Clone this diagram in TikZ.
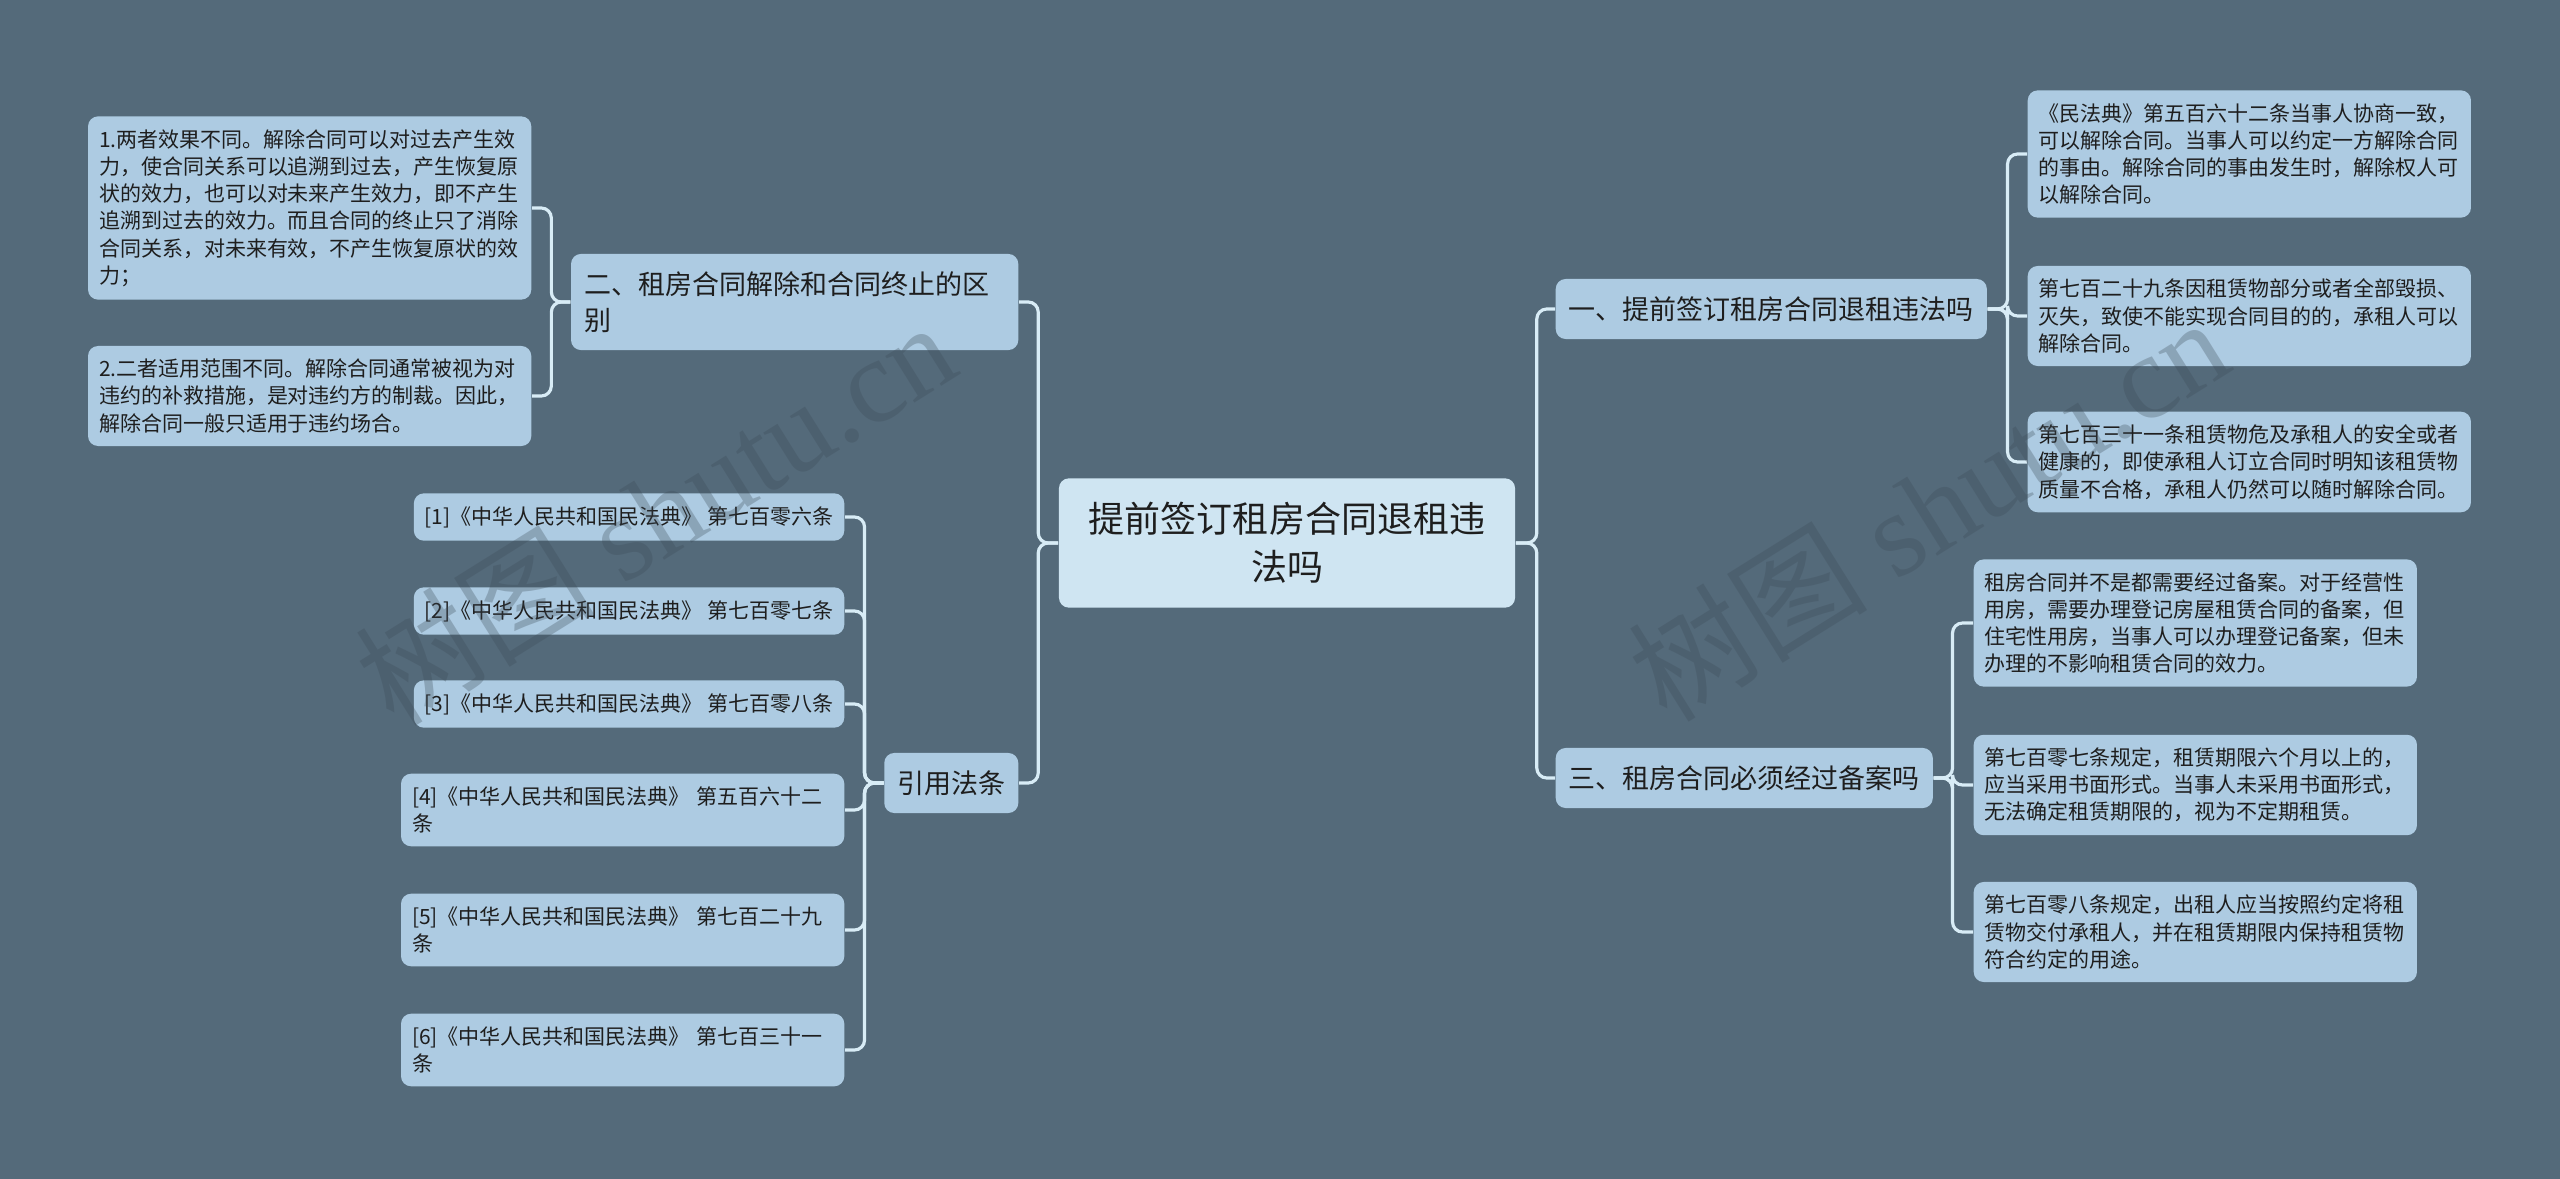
\documentclass[tikz,border=0pt]{standalone}
\usepackage{fontspec}
\newfontfamily\cjk{Noto Sans CJK SC}
\newfontfamily\wmserif{Liberation Serif}
\definecolor{bgcol}{RGB}{84,106,122}
\definecolor{boxfill}{RGB}{173,203,226}
\definecolor{rootfill}{RGB}{207,229,242}
\definecolor{linkcol}{RGB}{216,236,246}
\definecolor{textcol}{RGB}{30,30,30}
\definecolor{wmcol}{RGB}{60,74,86}

\begin{document}
\begin{tikzpicture}[x=0.01cm,y=-0.01cm,
  link/.style={draw=linkcol,line width=0.9pt,rounded corners=0.1cm},
  rootbox/.style={fill=rootfill,rounded corners=0.1cm,text=textcol,align=center,
    inner xsep=0.3cm,inner ysep=0.24cm,font=\cjk\fontsize{10.24pt}{13.66pt}\selectfont},
  topicbox/.style={fill=boxfill,rounded corners=0.1cm,text=textcol,align=left,
    inner xsep=0.13cm,inner ysep=0.175cm,font=\cjk\fontsize{7.68pt}{10.24pt}\selectfont},
  refbox/.style={fill=boxfill,rounded corners=0.1cm,text=textcol,align=left,
    inner xsep=0.11cm,inner ysep=0.13cm,font=\cjk\fontsize{5.97pt}{7.74pt}\selectfont},
  leafbox/.style={refbox,text width=4.21cm},
  wmark/.style={text=wmcol,text opacity=0.3,font=\wmserif\fontsize{34pt}{40pt}\selectfont}]
  \fill[bgcol] (0,0) rectangle (2560,1179);
  \useasboundingbox (0,0) rectangle (2560,1179);

  % centre
  \node[rootbox] (root) at (1287,543) {提前签订租房合同退租违\\法吗};

  % left side
  \node[topicbox,text width=4.21cm,anchor=east] (sec2) at (1019,302) {二、租房合同解除和合同终止的区\\别};
  \node[topicbox,anchor=east] (cite) at (1019,783) {引用法条};

  \node[leafbox,anchor=east] (diff1) at (532,208) {1.两者效果不同。解除合同可以对过去产生效\\力，使合同关系可以追溯到过去，产生恢复原\\状的效力，也可以对未来产生效力，即不产生\\追溯到过去的效力。而且合同的终止只了消除\\合同关系，对未来有效，不产生恢复原状的效\\力；};
  \node[leafbox,anchor=east] (diff2) at (532,396) {2.二者适用范围不同。解除合同通常被视为对\\违约的补救措施，是对违约方的制裁。因此，\\解除合同一般只适用于违约场合。};

  \node[refbox,anchor=east] (ref1) at (845,517) {[1]《中华人民共和国民法典》 第七百零六条};
  \node[refbox,anchor=east] (ref2) at (845,611) {[2]《中华人民共和国民法典》 第七百零七条};
  \node[refbox,anchor=east] (ref3) at (845,704) {[3]《中华人民共和国民法典》 第七百零八条};
  \node[leafbox,anchor=east] (ref4) at (845,810) {[4]《中华人民共和国民法典》 第五百六十二\\条};
  \node[leafbox,anchor=east] (ref5) at (845,930) {[5]《中华人民共和国民法典》 第七百二十九\\条};
  \node[leafbox,anchor=east] (ref6) at (845,1050) {[6]《中华人民共和国民法典》 第七百三十一\\条};

  % right side
  \node[topicbox,anchor=west] (sec1) at (1555,309) {一、提前签订租房合同退租违法吗};
  \node[topicbox,anchor=west] (sec3) at (1555,778) {三、租房合同必须经过备案吗};

  \node[leafbox,anchor=west] (law1) at (2027,154) {《民法典》第五百六十二条当事人协商一致，\\可以解除合同。当事人可以约定一方解除合同\\的事由。解除合同的事由发生时，解除权人可\\以解除合同。};
  \node[leafbox,anchor=west] (law2) at (2027,316) {第七百二十九条因租赁物部分或者全部毁损、\\灭失，致使不能实现合同目的的，承租人可以\\解除合同。};
  \node[leafbox,anchor=west] (law3) at (2027,462) {第七百三十一条租赁物危及承租人的安全或者\\健康的，即使承租人订立合同时明知该租赁物\\质量不合格，承租人仍然可以随时解除合同。};

  \node[leafbox,anchor=west] (file1) at (1973,623) {租房合同并不是都需要经过备案。对于经营性\\用房，需要办理登记房屋租赁合同的备案，但\\住宅性用房，当事人可以办理登记备案，但未\\办理的不影响租赁合同的效力。};
  \node[leafbox,anchor=west] (file2) at (1973,785) {第七百零七条规定，租赁期限六个月以上的，\\应当采用书面形式。当事人未采用书面形式，\\无法确定租赁期限的，视为不定期租赁。};
  \node[leafbox,anchor=west] (file3) at (1973,932) {第七百零八条规定，出租人应当按照约定将租\\赁物交付承租人，并在租赁期限内保持租赁物\\符合约定的用途。};

  % connectors
  \draw[link] (root.west) -- ++(-20,0) |- (sec2.east);
  \draw[link] (root.west) -- ++(-20,0) |- (cite.east);
  \draw[link] (root.east) -- ++(21,0) |- (sec1.west);
  \draw[link] (root.east) -- ++(21,0) |- (sec3.west);

  \draw[link] (sec2.west) -- ++(-19,0) |- (diff1.east);
  \draw[link] (sec2.west) -- ++(-19,0) |- (diff2.east);

  \draw[link] (cite.west) -- ++(-19,0) |- (ref1.east);
  \draw[link] (cite.west) -- ++(-19,0) |- (ref2.east);
  \draw[link] (cite.west) -- ++(-19,0) |- (ref3.east);
  \draw[link] (cite.west) -- ++(-19,0) |- (ref4.east);
  \draw[link] (cite.west) -- ++(-19,0) |- (ref5.east);
  \draw[link] (cite.west) -- ++(-19,0) |- (ref6.east);

  \draw[link] (sec1.east) -- ++(20,0) |- (law1.west);
  \draw[link] (sec1.east) -- ++(20,0) |- (law2.west);
  \draw[link] (sec1.east) -- ++(20,0) |- (law3.west);

  \draw[link] (sec3.east) -- ++(19,0) |- (file1.west);
  \draw[link] (sec3.east) -- ++(19,0) |- (file2.west);
  \draw[link] (sec3.east) -- ++(19,0) |- (file3.west);

  % watermark
  \node[wmark,rotate=32] (wmleft) at (655,512) {{\cjk 树图} shutu.cn};
  \node[wmark,rotate=32] (wmright) at (1928,508) {{\cjk 树图} shutu.cn};
\end{tikzpicture}
\end{document}
